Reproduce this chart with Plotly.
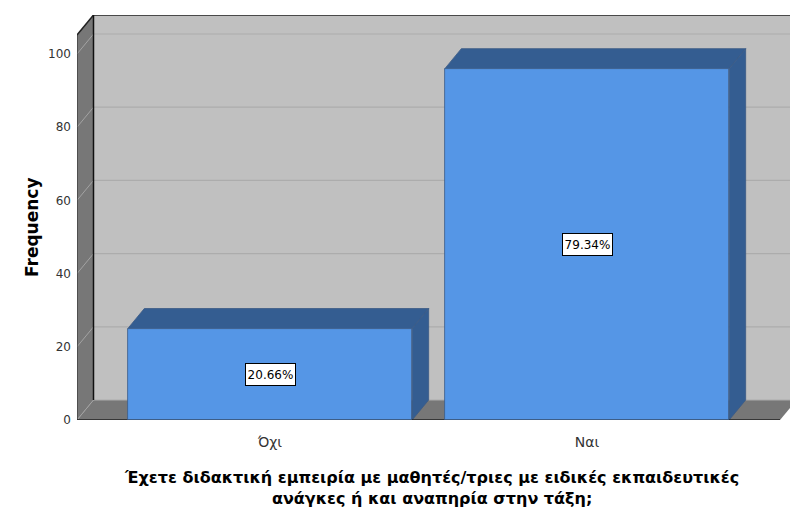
import plotly.graph_objects as go

# Survey answers and their counts (N = 121)
categories = ["Όχι", "Ναι"]
frequencies = [25, 96]
percent_labels = ["20.66%", "79.34%"]
y_ticks = [0, 20, 40, 60, 80, 100]

x_title_lines = [
    "Έχετε διδακτική εμπειρία με μαθητές/τριες με ειδικές εκπαιδευτικές",
    "ανάγκες ή και αναπηρία στην τάξη;",
]
y_title = "Frequency"

# Page and plot-area geometry (pixels)
W, H = 790, 511
M_L, M_R, M_T, M_B = 77, 0, 15, 91
plot_w = W - M_L - M_R
plot_h = H - M_T - M_B

# Scale of the front plane
px_per_cat = 317.0
px_per_unit = 3.66
side_pad = 193.0 / px_per_cat
x_lo = -side_pad
x_hi = x_lo + plot_w / px_per_cat
y_hi = plot_h / px_per_unit

# 3D depth offset, expressed in data units
DX = 16.5 / px_per_cat
DY = 20.0 / px_per_unit
bar_w = 0.897

FONT = "DejaVu Sans, Verdana, sans-serif"
FRONT = "#5596e6"
SHADE = "#345d91"
EDGE = "#3b5a85"
WALL = "#c0c0c0"
DARK_WALL = "#777777"

shapes = []


def poly(pts, fill, line_color=None, width=0):
    path = "M " + " L ".join(f"{x},{y}" for x, y in pts) + " Z"
    shapes.append(dict(type="path", path=path, xref="x", yref="y",
                       fillcolor=fill, layer="below",
                       line=dict(color=line_color or fill, width=width)))


def seg(x0, y0, x1, y1, color, width=1, layer="below"):
    shapes.append(dict(type="line", xref="x", yref="y", x0=x0, y0=y0,
                       x1=x1, y1=y1, layer=layer,
                       line=dict(color=color, width=width)))


# Back wall, left wall and floor
bx = x_lo + DX
poly([(bx, DY), (x_hi, DY), (x_hi, y_hi), (bx, y_hi)], WALL)
poly([(x_lo, 0), (bx, DY), (bx, y_hi), (x_lo, y_hi - DY)], DARK_WALL)
floor_end = 1 + side_pad
poly([(x_lo, 0), (floor_end, 0), (floor_end + DX, DY), (bx, DY)], DARK_WALL)

# Gridlines: diagonal across the left wall, then along the back wall
for t in y_ticks:
    seg(x_lo, t, bx, t + DY, "#a3a3a3", 1)
    seg(bx, t + DY, x_hi, t + DY, "#acacac", 1.2)

# Top and side faces of the bars
for i, v in enumerate(frequencies):
    x0 = i - bar_w / 2
    x1 = i + bar_w / 2
    poly([(x0, v), (x0 + DX, v + DY), (x1 + DX, v + DY), (x1, v)], SHADE, EDGE, 0.8)
    poly([(x1, v), (x1 + DX, v + DY), (x1 + DX, DY), (x1, 0)], SHADE, EDGE, 0.8)

# Frame edges
seg(bx, y_hi, x_hi, y_hi, "#222222", 1.5)
seg(x_lo, y_hi - DY, bx, y_hi, "#222222", 1.5)
seg(bx, DY, bx, y_hi, "#111111", 1.5)
seg(x_lo, 0, x_lo, y_hi - DY, "#333333", 1.2)
seg(x_lo, 0, floor_end, 0, "#222222", 1.5)

fig = go.Figure()
fig.add_trace(go.Bar(
    x=list(range(len(categories))), y=frequencies, width=bar_w,
    marker=dict(color=FRONT, line=dict(color=EDGE, width=0.8)),
    hoverinfo="skip", showlegend=False,
))

annotations = []
for i, (v, lab) in enumerate(zip(frequencies, percent_labels)):
    annotations.append(dict(
        x=i, y=v / 2, xref="x", yref="y", text=lab, showarrow=False,
        font=dict(family=FONT, size=12, color="#000000"),
        width=47, height=19, align="center", valign="middle",
        bgcolor="#ffffff", bordercolor="#000000", borderwidth=1, borderpad=1,
    ))


def px_x(p):
    return (p - M_L) / plot_w


def px_y(q):
    return (M_T + plot_h - q) / plot_h


annotations.append(dict(
    x=px_x(20), y=px_y(227), xref="paper", yref="paper",
    text=f"<b>{y_title}</b>", textangle=-90, showarrow=False,
    font=dict(family=FONT, size=17, color="#000000"),
))
annotations.append(dict(
    x=px_x(431), y=px_y(488), xref="paper", yref="paper",
    text="<br>".join(f"<b>{line}</b>" for line in x_title_lines),
    showarrow=False, yanchor="middle", align="center",
    font=dict(family=FONT, size=16, color="#000000"),
))

fig.update_layout(
    width=W, height=H,
    margin=dict(l=M_L, r=M_R, t=M_T, b=M_B, pad=0),
    paper_bgcolor="#ffffff", plot_bgcolor="rgba(0,0,0,0)",
    shapes=shapes, annotations=annotations,
    bargap=0, showlegend=False,
    font=dict(family=FONT),
)
fig.update_xaxes(
    range=[x_lo, x_hi], tickvals=list(range(len(categories))), ticktext=categories,
    showgrid=False, zeroline=False, showline=False, ticks="",
    ticklabelstandoff=12,
    tickfont=dict(family=FONT, size=14, color="#333333"), fixedrange=True,
)
fig.update_yaxes(
    range=[0, y_hi], tickvals=y_ticks, showgrid=False, zeroline=False,
    showline=False, ticks="", ticklabelstandoff=5,
    tickfont=dict(family=FONT, size=12, color="#333333"), fixedrange=True,
)

fig.write_html("out.html")
